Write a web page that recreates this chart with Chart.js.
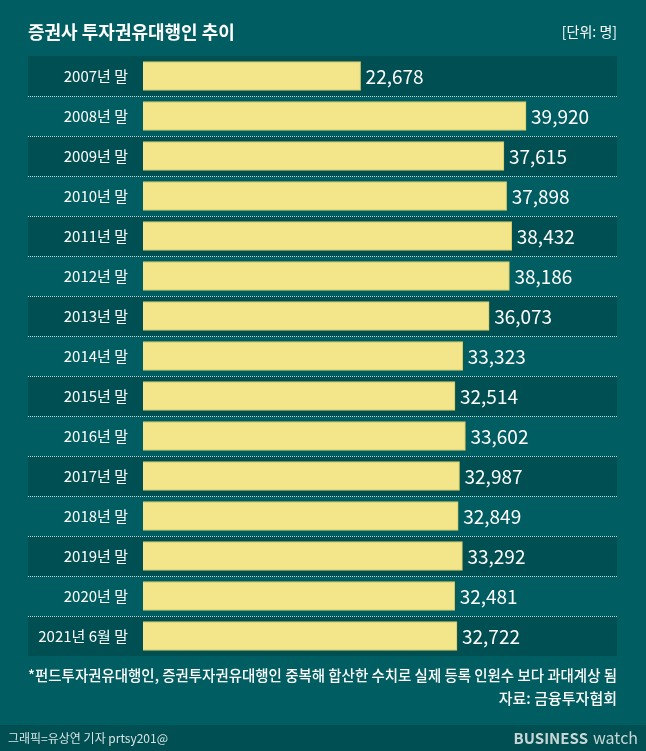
<!DOCTYPE html>
<html>
<head>
<meta charset="utf-8">
<script src="https://cdn.jsdelivr.net/npm/chart.js@4"></script>
<style>
html, body { margin: 0; padding: 0; background: #005e62; }
#wrap { width: 646px; height: 751px; }
</style>
</head>
<body>
<div id="wrap"><canvas id="chart" width="646" height="751"></canvas></div>
<script>
const categories = ['2007년 말', '2008년 말', '2009년 말', '2010년 말', '2011년 말', '2012년 말', '2013년 말',
    '2014년 말', '2015년 말', '2016년 말', '2017년 말', '2018년 말', '2019년 말', '2020년 말', '2021년 6월 말'];
const brokers = [22678, 39920, 37615, 37898, 38432, 38186, 36073, 33323, 32514, 33602, 32987, 32849, 33292, 32481, 32722];

const FONT = '"Noto Sans CJK KR", "Noto Sans", sans-serif';

// row bands, separators, titles and value labels
const decor = {
    id: 'decor',
    beforeDraw(chart) {
        const { ctx, chartArea } = chart;
        const W = chart.width;
        ctx.save();
        ctx.fillStyle = '#005e62';
        ctx.fillRect(0, 0, W, chart.height);
        ctx.fillStyle = '#004f53';
        ctx.fillRect(0, 725, W, 26);
        const left = 28, right = 617;
        const step = (chartArea.bottom - chartArea.top) / categories.length;
        categories.forEach((c, i) => {
            const top = chartArea.top + i * step;
            if (i % 2 === 0) {
                ctx.fillStyle = '#004f53';
                ctx.fillRect(left, top, right - left, step);
            }
            if (i > 0) {
                ctx.strokeStyle = 'rgba(255,255,255,0.75)';
                ctx.lineWidth = 1;
                ctx.setLineDash([1, 1]);
                ctx.beginPath();
                ctx.moveTo(left, Math.round(top) + 0.5);
                ctx.lineTo(right, Math.round(top) + 0.5);
                ctx.stroke();
            }
        });
        ctx.setLineDash([]);
        ctx.fillStyle = '#ffffff';
        ctx.textBaseline = 'middle';
        ctx.font = 'bold 18px ' + FONT;
        ctx.textAlign = 'left';
        ctx.fillText('증권사 투자권유대행인 추이', 28, 32);
        ctx.font = '14px ' + FONT;
        ctx.textAlign = 'right';
        ctx.fillText('[단위: 명]', 617, 32);
        ctx.font = '500 15px ' + FONT;
        ctx.textAlign = 'left';
        ctx.fillText('*펀드투자권유대행인, 증권투자권유대행인 중복해 합산한 수치로 실제 등록 인원수 보다 과대계상 됨', 28, 675, 589);
        ctx.textAlign = 'right';
        ctx.fillText('자료: 금융투자협회', 617, 698);
        ctx.font = '12px ' + FONT;
        ctx.fillStyle = '#d8e4e4';
        ctx.textAlign = 'left';
        ctx.fillText('그래픽=유상연 기자 prtsy201@', 8, 738);
        ctx.textAlign = 'right';
        ctx.font = 'bold 15px ' + FONT;
        ctx.fillStyle = '#c9d6d6';
        ctx.fillText('BUSINESS', 588, 738);
        ctx.font = '16px ' + FONT;
        ctx.fillText('watch', 638, 738);
        ctx.restore();
    },
    afterDatasetsDraw(chart) {
        const { ctx } = chart;
        const meta = chart.getDatasetMeta(0);
        ctx.save();
        ctx.fillStyle = '#ffffff';
        ctx.font = '19px ' + FONT;
        ctx.textAlign = 'left';
        ctx.textBaseline = 'middle';
        meta.data.forEach((bar, i) => {
            ctx.fillText(brokers[i].toLocaleString('en-US'), bar.x + 5, bar.y + 1);
        });
        ctx.restore();
    }
};

new Chart(document.getElementById('chart'), {
    type: 'bar',
    data: {
        labels: categories,
        datasets: [{
            data: brokers,
            backgroundColor: '#f3e68a',
            borderColor: '#d9c860',
            borderWidth: 1,
            borderSkipped: 'left',
            barThickness: 29
        }]
    },
    options: {
        indexAxis: 'y',
        responsive: false,
        animation: false,
        layout: { padding: { top: 56, bottom: 95, left: 28, right: 29 } },
        plugins: { legend: { display: false }, tooltip: { enabled: false } },
        scales: {
            x: { min: 0, max: 49400, display: false },
            y: {
                grid: { display: false },
                border: { display: false },
                afterFit(axis) { axis.width = 115; },
                ticks: { color: '#ffffff', font: { size: 15, family: FONT }, padding: 7 }
            }
        }
    },
    plugins: [decor]
});
</script>
</body>
</html>
